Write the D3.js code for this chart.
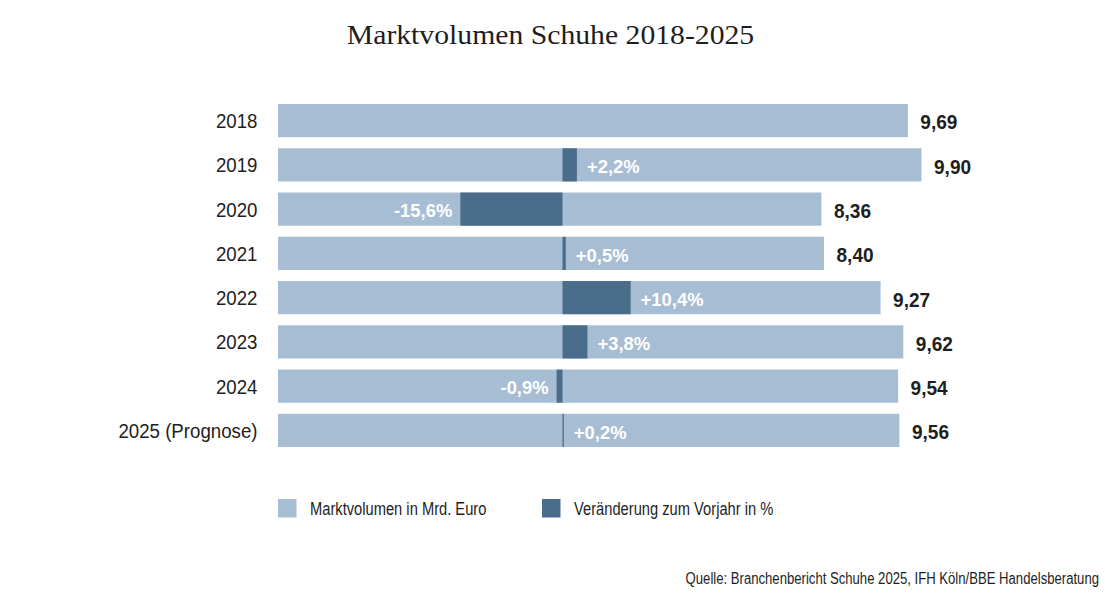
<!DOCTYPE html>
<html>
<head>
<meta charset="utf-8">
<script src="https://cdn.jsdelivr.net/npm/d3@7"></script>
<style>
  body { margin: 0; background: #fff; }
  text { font-family: "Liberation Sans", Arial, sans-serif; }
  .title { font-family: "Liberation Serif", "DejaVu Serif", serif; }
</style>
</head>
<body>
<div id="chart"></div>
<script>
const LIGHT = "#a7bdd3"
const DARK = "#4a6d8c"
const INK = "#1e1e1e"

// data
const years = ["2018", "2019", "2020", "2021", "2022", "2023", "2024", "2025 (Prognose)"];
const volume = [9.69, 9.90, 8.36, 8.40, 9.27, 9.62, 9.54, 9.56];
const change = [null, 2.2, -15.6, 0.5, 10.4, 3.8, -0.9, 0.2];
const legendLabels = ["Marktvolumen in Mrd. Euro", "Veränderung zum Vorjahr in %"];

let width = 1105, height = 606;
let svg = d3.select("#chart").append("svg").attr("width", width).attr("height", height);

let fmt = function (v, digits) { return v.toFixed(digits).replace(".", ","); };
// place text at (px, py) and squeeze it horizontally (condensed look)
let place = function (px, py, sx) {
    return "translate(" + px + "," + py + ") scale(" + sx + ",1)";
};

let y = d3.scaleBand().domain(years).range([104, 447]).paddingInner(0.25).paddingOuter(0);
let x = d3.scaleLinear().domain([0, 10]).range([278, 928]);
let xc = d3.scaleLinear().domain([-20, 20]).range([562.5 - 131, 562.5 + 131]);

svg.append("text").attr("class", "title")
    .attr("transform", place(550.5, 44, 1.1))
    .attr("text-anchor", "middle")
    .attr("font-size", "27px")
    .attr("fill", INK)
    .text("Marktvolumen Schuhe 2018-2025");

// year labels
svg.append("g").selectAll("text").data(years).join("text")
    .attr("transform", d => place(257.5, y(d) + y.bandwidth() / 2, 0.89))
    .attr("dy", "0.36em")
    .attr("text-anchor", "end")
    .attr("font-size", "21px")
    .attr("fill", INK)
    .text(d => d);

// volume bars
svg.append("g").selectAll("rect").data(volume).join("rect")
    .attr("x", x(0))
    .attr("y", (d, i) => y(years[i]))
    .attr("width", d => x(d) - x(0))
    .attr("height", y.bandwidth())
    .attr("fill", LIGHT);

// value labels
svg.append("g").selectAll("text").data(volume).join("text")
    .attr("transform", (d, i) => place(x(d) + 12.5, y(years[i]) + y.bandwidth() / 2 + 1.5, 0.93))
    .attr("dy", "0.36em")
    .attr("font-size", "20.5px")
    .attr("font-weight", "bold")
    .attr("fill", INK)
    .text(d => fmt(d, 2));

// change bars
let ch = change.map((c, i) => ({ year: years[i], c: c })).filter(d => d.c !== null);

svg.append("g").selectAll("rect").data(ch).join("rect")
    .attr("x", d => xc(Math.min(0, d.c)))
    .attr("y", d => y(d.year))
    .attr("width", d => Math.max(1.3, Math.abs(xc(d.c) - xc(0))))
    .attr("height", y.bandwidth())
    .attr("fill", DARK);

svg.append("g").selectAll("text").data(ch).join("text")
    .attr("transform", d => place(d.c >= 0 ? xc(d.c) + 10 : xc(d.c) - 8, y(d.year) + y.bandwidth() / 2 + 1.5, 0.97))
    .attr("dy", "0.36em")
    .attr("text-anchor", d => d.c >= 0 ? "start" : "end")
    .attr("font-size", "19px")
    .attr("font-weight", "bold")
    .attr("fill", "#fff")
    .text(d => (d.c >= 0 ? "+" : "") + fmt(d.c, 1) + "%");

// legend
let legend = svg.append("g").selectAll("g").data(legendLabels).join("g")
    .attr("transform", (d, i) => "translate(" + (i === 0 ? 278 : 542) + ",499)");
legend.append("rect").attr("width", 18.5).attr("height", 18.5)
    .attr("fill", (d, i) => i === 0 ? LIGHT : DARK);
legend.append("text")
    .attr("transform", place(32, 10, 0.84))
    .attr("dy", "0.36em")
    .attr("font-size", "17.5px").attr("fill", INK)
    .text(d => d);

svg.append("text")
    .attr("transform", place(1099, 584, 0.82))
    .attr("text-anchor", "end")
    .attr("font-size", "16px")
    .attr("fill", INK)
    .text("Quelle: Branchenbericht Schuhe 2025, IFH Köln/BBE Handelsberatung");
</script>
</body>
</html>
